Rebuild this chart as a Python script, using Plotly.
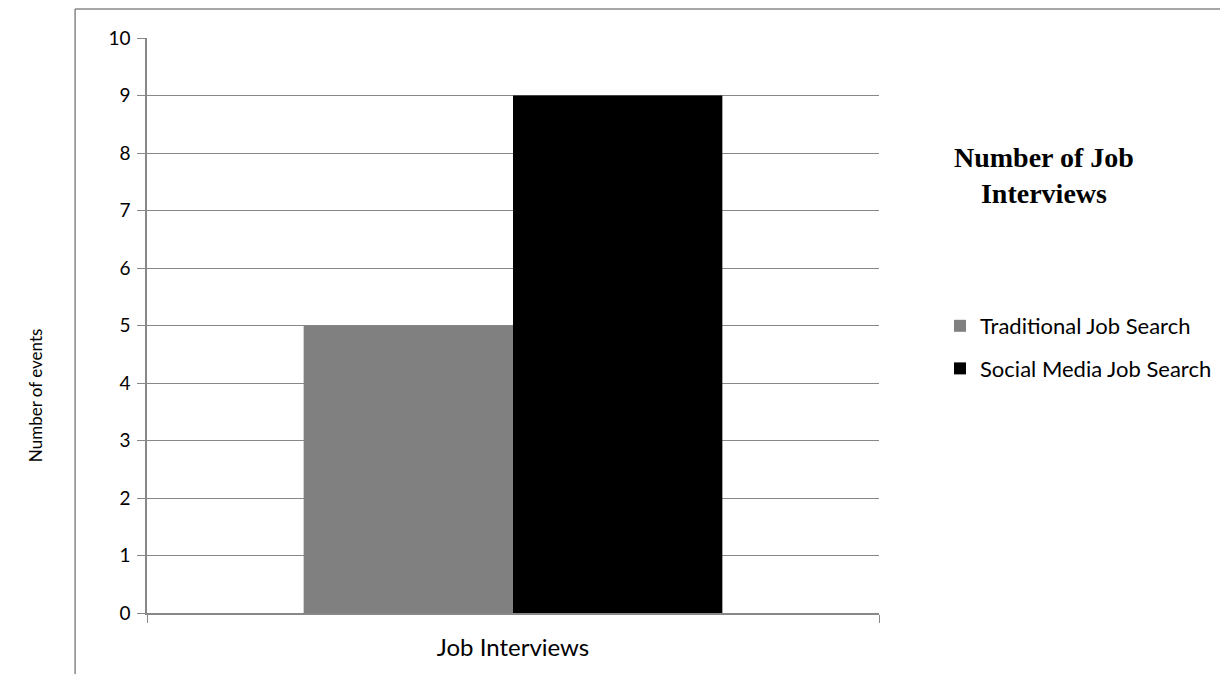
import plotly.graph_objects as go

categories = ["Job Interviews"]
series_names = ["Traditional Job Search", "Social Media Job Search"]
traditional = [5]
social = [9]
y_ticks = list(range(0, 11))

# page body has an 8px margin in the viewer
O = 8
W, H = 1228 - O, 674 - O
L, R, T, B = 147, 880, 38, 613   # plot area in page coordinates

def px(x):
    return (x - L) / (R - L)

def py(y):
    return (B - y) / (B - T)

fig = go.Figure()
fig.add_trace(go.Bar(x=categories, y=traditional, name=series_names[0],
                     marker=dict(color="#808080", line=dict(width=0)), legendgroup="a"))
fig.add_trace(go.Bar(x=categories, y=social, name=series_names[1],
                     marker=dict(color="#000000", line=dict(width=0)), legendgroup="b"))

font_main = "Lato, 'Open Sans', sans-serif"

fig.update_layout(
    width=W, height=H,
    margin=dict(l=L - O, r=W - (R - O), t=T - O, b=H - (B - O), pad=0),
    paper_bgcolor="white", plot_bgcolor="white",
    barmode="group", bargap=0.428, bargroupgap=0,
    font=dict(family=font_main, size=19, color="#000"),
    showlegend=True,
    legend=dict(x=px(940), y=py(305), xanchor="left", yanchor="top",
                font=dict(size=22, family=font_main), traceorder="grouped",
                tracegroupgap=11, itemwidth=30, bgcolor="rgba(0,0,0,0)"),
    xaxis=dict(showline=True, linecolor="#888888", linewidth=1.5,
               ticks="outside", tickson="boundaries", ticklen=8, tickcolor="#888888",
               showgrid=False, tickfont=dict(size=24), ticklabelstandoff=12),
    yaxis=dict(range=[0, 10], tickvals=y_ticks, showline=True, linecolor="#888888",
               linewidth=1.5, ticks="outside", ticklen=8, tickcolor="#888888",
               showgrid=True, gridcolor="#888888", gridwidth=1.2,
               tickfont=dict(size=19), zeroline=False, ticklabelstandoff=3),
)

fig.add_annotation(text="<b>Number of Job<br>Interviews</b>", xref="paper", yref="paper",
                   x=px(1045), y=py(175), xanchor="center", yanchor="middle",
                   showarrow=False, align="center",
                   font=dict(family="'Liberation Serif', 'Times New Roman', serif", size=28, color="#000"))
fig.add_annotation(text="Number of events", xref="paper", yref="paper",
                   x=px(36), y=py(395), xanchor="center", yanchor="middle",
                   showarrow=False, textangle=-90,
                   font=dict(size=17, family=font_main, color="#000"))

# outer chart frame (left and top edges)
fig.add_shape(type="line", xref="paper", yref="paper", x0=px(75), x1=px(75), y0=py(9), y1=py(690),
              line=dict(color="#888888", width=1.5))
fig.add_shape(type="line", xref="paper", yref="paper", x0=px(75), x1=px(1240), y0=py(9), y1=py(9),
              line=dict(color="#888888", width=1.5))

fig.write_html("out.html")
